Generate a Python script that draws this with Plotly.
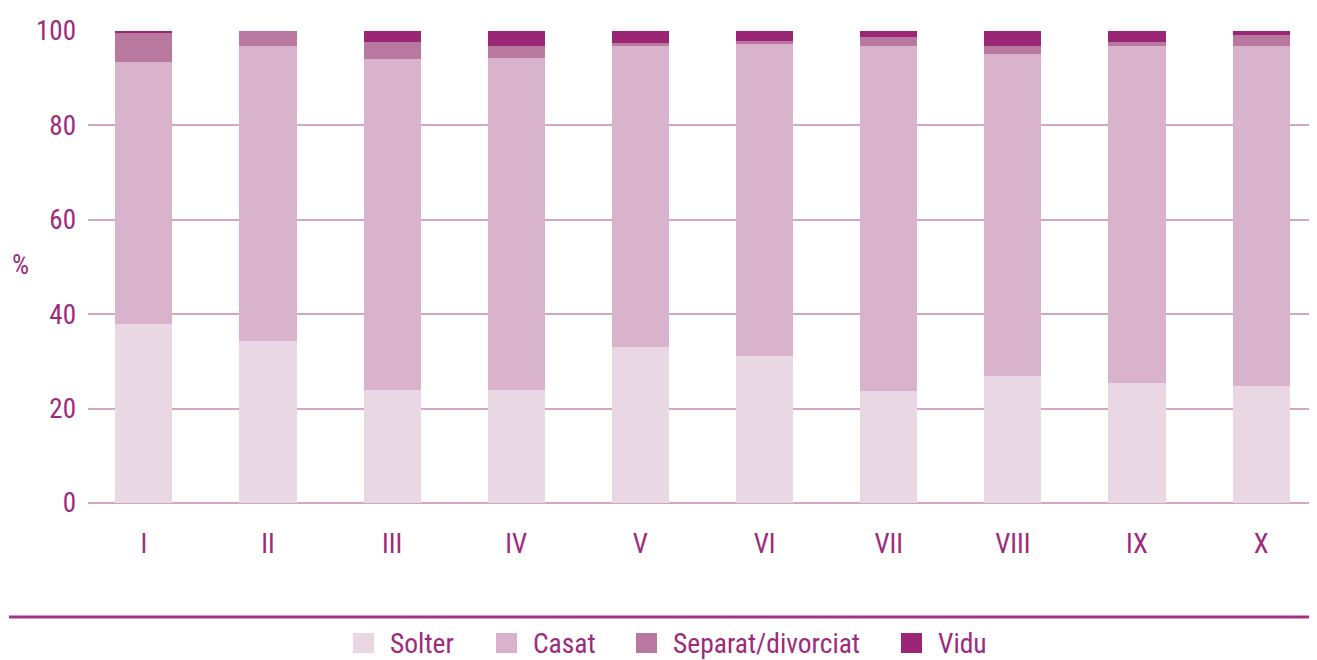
import plotly.graph_objects as go

categories = ["I", "II", "III", "IV", "V", "VI", "VII", "VIII", "IX", "X"]
solter = [37.9, 34.3, 23.9, 23.9, 33.1, 31.1, 23.7, 26.9, 25.4, 24.8]
casat = [55.5, 62.5, 70.2, 70.4, 63.7, 66.1, 73.1, 68.2, 71.4, 72.0]
separat = [6.3, 3.2, 3.6, 2.5, 0.7, 0.7, 1.9, 1.7, 0.9, 2.4]
vidu = [0.3, 0.0, 2.3, 3.2, 2.5, 2.1, 1.3, 3.2, 2.3, 0.8]
series_names = ["Solter", "Casat", "Separat/divorciat", "Vidu"]
colors = ["#e9d8e4", "#d8b3cb", "#b978a0", "#9c2676"]
y_ticks = [0, 20, 40, 60, 80, 100]

TEXT = "#9e2a7c"
FONT = "Roboto Condensed, Liberation Sans, sans-serif"

# layout geometry (figure pixels; page body adds an 8px offset)
W, H = 1309, 652
ML, MR, MT, MB = 80, 0, 23, 157
PW, PH = W - ML - MR, H - MT - MB


def px(x):
    return (x - ML) / PW


def py(y):
    return (H - MB - y) / PH


fig = go.Figure()
for name, vals, col in zip(series_names, [solter, casat, separat, vidu], colors):
    fig.add_trace(go.Bar(x=categories, y=vals, name=name, marker=dict(color=col, line=dict(width=0)),
                         width=0.46, showlegend=False))

# legend (custom, to match large square swatches)
legend_x = [345, 488, 628, 893]
sw = 21
shapes = [dict(type="line", xref="paper", yref="paper", x0=px(1), x1=1.0, y0=py(609), y1=py(609),
               line=dict(color="#a33285", width=3))]
annotations = [dict(text="%", xref="paper", yref="paper", x=px(12), y=py(257),
                    xanchor="center", yanchor="middle", showarrow=False,
                    font=dict(size=27, color=TEXT))]
for name, col, lx in zip(series_names, colors, legend_x):
    shapes.append(dict(type="rect", xref="paper", yref="paper", x0=px(lx), x1=px(lx + sw),
                       y0=py(625), y1=py(645), fillcolor=col, line=dict(width=0)))
    annotations.append(dict(text=name, xref="paper", yref="paper", x=px(lx + sw + 14), y=py(635),
                            xanchor="left", yanchor="middle", showarrow=False,
                            font=dict(size=27.5, color=TEXT)))

fig.update_layout(
    barmode="stack",
    width=W, height=H,
    margin=dict(l=ML, r=MR, t=MT, b=MB),
    plot_bgcolor="white", paper_bgcolor="white",
    font=dict(family=FONT, color=TEXT, size=27),
    showlegend=False,
    xaxis=dict(range=[-0.45, 9.45], showgrid=False, zeroline=False, showline=False,
               tickfont=dict(size=27, color=TEXT), ticks="", ticklabelstandoff=22),
    yaxis=dict(range=[0, 100], tickvals=y_ticks, showgrid=True, gridcolor="#d4a6c6", gridwidth=2,
               zeroline=True, zerolinecolor="#d4a6c6", zerolinewidth=2, showline=False,
               tickfont=dict(size=27, color=TEXT), ticks="", ticklabelstandoff=11),
    shapes=shapes,
    annotations=annotations,
)

fig.write_html("out.html")
